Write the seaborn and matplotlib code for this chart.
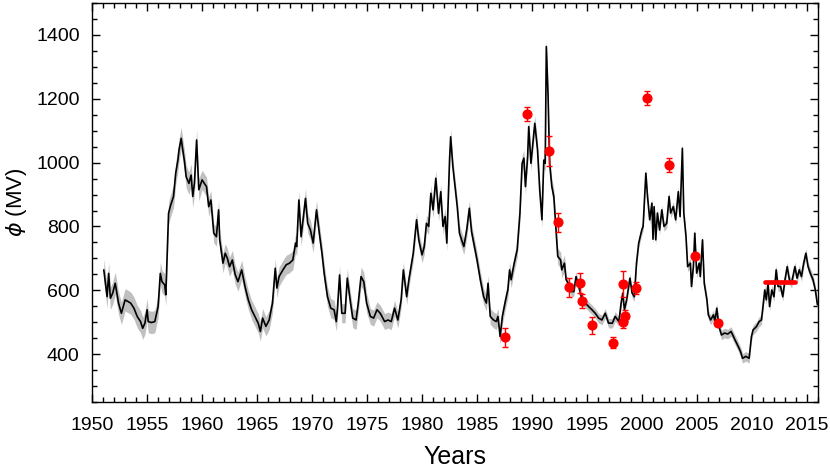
import matplotlib
matplotlib.use("Agg")
import matplotlib.pyplot as plt
import numpy as np
import pandas as pd
import seaborn as sns

# modulation potential (year, phi in MV)
years = [
    1951.06, 1951.36, 1951.5, 1951.66, 1951.87, 1952.1, 1952.4, 1952.66, 1953.0, 1953.5,
    1953.8, 1954.1, 1954.4, 1954.6, 1954.8, 1955.0, 1955.1, 1955.4, 1955.7, 1956.0,
    1956.2, 1956.35, 1956.6, 1956.7, 1956.95, 1957.1, 1957.4, 1957.6, 1957.8, 1957.9,
    1958.1, 1958.2, 1958.4, 1958.55, 1958.8, 1959.0, 1959.15, 1959.3, 1959.5, 1959.7,
    1960.0, 1960.2, 1960.4, 1960.6, 1960.8, 1961.06, 1961.3, 1961.5, 1961.6, 1961.9,
    1962.1, 1962.3, 1962.5, 1962.75, 1963.0, 1963.26, 1963.6, 1963.9, 1964.2, 1964.5,
    1964.8, 1965.1, 1965.3, 1965.5, 1965.8, 1966.1, 1966.4, 1966.65, 1966.8, 1967.0,
    1967.35, 1967.65, 1967.95, 1968.25, 1968.5, 1968.6, 1968.8, 1969.0, 1969.4, 1969.6,
    1969.85, 1970.1, 1970.4, 1970.7, 1970.9, 1971.1, 1971.4, 1971.7, 1972.0, 1972.2,
    1972.3, 1972.5, 1972.7, 1973.0, 1973.2, 1973.5, 1973.7, 1974.0, 1974.2, 1974.45,
    1974.7, 1974.96, 1975.3, 1975.6, 1975.9, 1976.2, 1976.6, 1976.9, 1977.2, 1977.5,
    1977.8, 1978.1, 1978.3, 1978.6, 1978.8, 1979.2, 1979.5, 1979.7, 1980.0, 1980.2,
    1980.4, 1980.6, 1980.8, 1981.0, 1981.25, 1981.5, 1981.7, 1981.9, 1982.1, 1982.25,
    1982.5, 1982.6, 1982.8, 1983.0, 1983.2, 1983.4, 1983.6, 1983.8, 1984.06, 1984.3,
    1984.5, 1984.7, 1985.0, 1985.3, 1985.6, 1985.85, 1986.0, 1986.2, 1986.5, 1986.75,
    1986.9, 1987.1, 1987.3, 1987.6, 1987.8, 1987.96, 1988.1, 1988.35, 1988.65, 1988.9,
    1989.1, 1989.26, 1989.4, 1989.6, 1989.7, 1989.9, 1990.1, 1990.25, 1990.5, 1990.7,
    1990.9, 1991.07, 1991.2, 1991.3, 1991.46, 1991.6, 1991.8, 1991.98, 1992.1, 1992.34,
    1992.6, 1992.7, 1992.95, 1993.1, 1993.3, 1993.55, 1993.8, 1994.0, 1994.25, 1994.55,
    1994.85, 1995.15, 1995.45, 1995.75, 1996.05, 1996.35, 1996.66, 1996.96, 1997.3, 1997.56,
    1997.9, 1998.1, 1998.25, 1998.4, 1998.6, 1998.9, 1999.1, 1999.3, 1999.5, 1999.7,
    1999.98, 2000.1, 2000.35, 2000.5, 2000.7, 2000.9, 2001.0, 2001.1, 2001.25, 2001.4,
    2001.6, 2001.8, 2002.0, 2002.25, 2002.46, 2002.6, 2002.85, 2003.06, 2003.3, 2003.46,
    2003.67, 2003.8, 2004.0, 2004.15, 2004.4, 2004.5, 2004.67, 2004.8, 2004.97, 2005.2,
    2005.3, 2005.5, 2005.66, 2005.9, 2006.03, 2006.24, 2006.5, 2006.63, 2006.8, 2007.0,
    2007.23, 2007.5, 2007.8, 2008.1, 2008.45, 2008.75, 2008.96, 2009.14, 2009.44, 2009.74,
    2009.95, 2010.1, 2010.4, 2010.65, 2010.86, 2011.0, 2011.16, 2011.3, 2011.46, 2011.6,
    2011.8, 2012.0, 2012.2, 2012.37, 2012.6, 2012.8, 2013.0, 2013.2, 2013.4, 2013.6,
    2013.9, 2014.1, 2014.3, 2014.5, 2014.7, 2014.9, 2015.1, 2015.3, 2015.55, 2015.76,
    2015.95,
]
phi = [
    664, 580, 653, 575, 591, 622, 560, 528, 570, 560,
    544, 518, 502, 481, 497, 539, 502, 499, 502, 549,
    653, 627, 617, 586, 841, 862, 894, 967, 1008, 1040,
    1076, 1050, 1003, 956, 935, 961, 894, 935, 1071, 915,
    946, 935, 925, 862, 883, 779, 768, 852, 758, 685,
    716, 700, 674, 695, 650, 627, 664, 612, 570, 539,
    518, 497, 471, 513, 487, 507, 560, 669, 607, 643,
    664, 680, 685, 695, 748, 737, 883, 768, 888, 810,
    789, 748, 852, 768, 716, 653, 580, 544, 539, 502,
    539, 648, 528, 528, 638, 560, 513, 507, 560, 643,
    627, 560, 518, 513, 539, 528, 502, 507, 502, 544,
    507, 570, 664, 580, 633, 716, 821, 758, 711, 737,
    810, 800, 904, 852, 951, 841, 909, 800, 831, 748,
    1008, 1081, 988, 925, 862, 779, 758, 737, 789, 857,
    784, 748, 695, 633, 580, 560, 622, 518, 507, 502,
    518, 455, 518, 570, 601, 664, 633, 680, 727, 842,
    998, 1014, 925, 1019, 1113, 998, 1071, 1123, 1040, 914,
    821, 1008, 998, 1364, 1207, 998, 925, 894, 831, 706,
    695, 664, 685, 633, 622, 596, 596, 643, 612, 570,
    560, 549, 539, 528, 513, 507, 528, 497, 497, 518,
    502, 560, 591, 539, 570, 638, 591, 580, 685, 748,
    789, 800, 967, 894, 821, 873, 760, 862, 758, 842,
    789, 852, 800, 810, 894, 842, 862, 821, 909, 831,
    1045, 842, 768, 674, 685, 612, 674, 779, 654, 685,
    643, 758, 622, 570, 523, 507, 523, 502, 544, 486,
    460, 466, 463, 471, 445, 424, 408, 387, 393, 387,
    455, 476, 486, 502, 507, 549, 601, 570, 622, 549,
    601, 580, 664, 612, 612, 580, 633, 674, 633, 622,
    674, 638, 664, 643, 685, 716, 674, 654, 633, 601,
    555,
]

# half-width of the grey uncertainty band, by period
band_start = [1950, 1960, 1975, 1993]
band_half = [35, 30, 25, 15]

# measured points with error bars
pt_year = [1987.53, 1989.56, 1991.58, 1992.4, 1993.37, 1994.36, 1994.5, 1995.42, 1997.4,
           1998.26, 1998.44, 1998.26, 1999.47, 2000.47, 2002.46, 2004.79, 2006.87]
pt_phi = [453, 1152, 1037, 813, 610, 624, 566, 490, 436,
          620, 521, 501, 607, 1203, 993, 706, 497]
pt_err = [30, 22, 48, 30, 30, 31, 23, 26, 18,
          40, 18, 18, 20, 23, 21, 8, 6]

# averaged value over a period (red bar)
bar_years = [2011.2, 2013.9]
bar_phi = [625, 625]

df = pd.DataFrame({"year": years, "phi": phi})
idx = np.searchsorted(band_start, df["year"], side="right") - 1
df["half"] = np.array(band_half)[idx]

sns.set_style("ticks")
plt.rcParams["font.family"] = ["Liberation Sans", "DejaVu Sans"]
plt.rcParams["xtick.direction"] = "in"
plt.rcParams["ytick.direction"] = "in"
for k in ["text.color", "axes.labelcolor", "xtick.color", "ytick.color", "axes.edgecolor"]:
    plt.rcParams[k] = "black"

fig = plt.figure(figsize=(8.3, 4.71), dpi=100)
ax = fig.add_axes([0.111, 0.1465, 0.8745, 0.847])

ax.fill_between(df["year"], df["phi"] - df["half"], df["phi"] + df["half"],
                color="#c0c0c0", linewidth=0, zorder=1)
sns.lineplot(data=df, x="year", y="phi", color="black", linewidth=1.2,
             estimator=None, sort=False, ax=ax, zorder=2)

ax.errorbar(pt_year, pt_phi, yerr=pt_err, fmt="o", color="red", ms=6.3,
            elinewidth=1.0, capsize=2, capthick=1.0, zorder=4)
ax.plot(bar_years, bar_phi, color="red", linewidth=3.4,
        solid_capstyle="round", zorder=4)

ax.set_xlim(1950, 2016)
ax.set_ylim(250, 1500)
ax.set_xticks(np.arange(1950, 2016, 5))
ax.set_xticks(np.arange(1950, 2017, 1), minor=True)
ax.set_yticks(np.arange(400, 1401, 200))
ax.set_yticks(np.arange(250, 1501, 50), minor=True)
ax.tick_params(which="major", length=6, width=1, labelsize=14, top=True, right=True)
ax.tick_params(which="minor", length=3.5, width=1, top=True, right=True)
ax.tick_params(axis="x", which="major", pad=11)
ax.tick_params(axis="y", which="major", pad=9)
for s in ax.spines.values():
    s.set_visible(True)
    s.set_linewidth(1.0)
    s.set_color("black")

ax.set_xlabel("Years", fontsize=18, labelpad=8)
ax.set_ylabel(r"$\phi$ (MV)", fontsize=16, labelpad=5)

fig.savefig("out.png", dpi=100)
